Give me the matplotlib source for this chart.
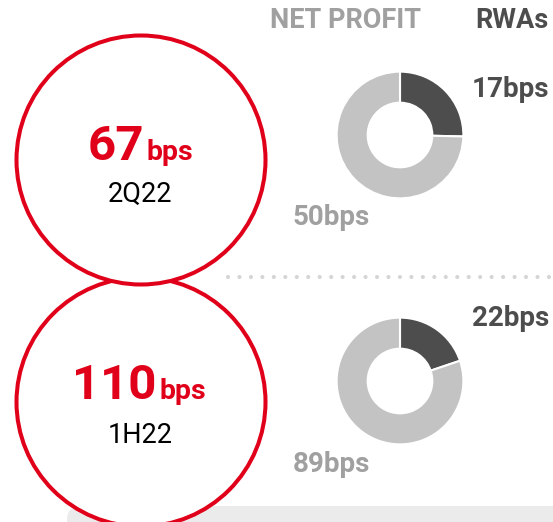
import matplotlib
matplotlib.use("Agg")
import matplotlib.pyplot as plt
from matplotlib.patches import Circle, FancyBboxPatch

# ---- data ----
periods = ["2Q22", "1H22"]
totals = [67, 110]
net_profit = [50, 89]
rwas = [17, 22]
headers = ["NET PROFIT", "RWAs"]

RED = "#E1001A"
DARK = "#4D4D4D"
LIGHT = "#C3C3C3"
TXTGRAY = "#A0A0A0"

plt.rcParams["font.family"] = ["Roboto", "DejaVu Sans"]

W, H = 553, 522
fig = plt.figure(figsize=(W / 100, H / 100), dpi=100)
ax = fig.add_axes([0, 0, 1, 1])
ax.set_xlim(0, W)
ax.set_ylim(H, 0)
ax.axis("off")

# bottom grey panel
ax.add_patch(FancyBboxPatch((67, 506), 520, 40,
                            boxstyle="round,pad=0,rounding_size=14",
                            fc="#EBEBEB", ec="none", zorder=1))

# dotted separator
ax.plot([228, 553], [277, 277], ls=(0, (0.001, 2.75)), lw=3.0,
        dash_capstyle="round", color="#D5D5D5", zorder=1)

# headers
ax.text(346, 28, headers[0], color=TXTGRAY, fontsize=19.5, fontweight="bold",
        ha="center", va="baseline")
ax.text(512, 28, headers[1], color=DARK, fontsize=19.5, fontweight="bold",
        ha="center", va="baseline")

circle_cy = [160, 402]
circle_cx = 141
big_split = [144, 157]
big_base = [160, 399]
small_base = [202, 443]
for i in range(2):
    ax.add_patch(Circle((circle_cx, circle_cy[i]), 124.5, fc="white", ec=RED,
                        lw=2.9, zorder=3 - i))
    ax.text(big_split[i], big_base[i], f"{totals[i]}", color=RED, fontsize=35.5,
            fontweight="bold", ha="right", va="baseline", zorder=5)
    ax.text(big_split[i] + 2.5, big_base[i], "bps", color=RED, fontsize=20.5,
            fontweight="bold", ha="left", va="baseline", zorder=5)
    ax.text(circle_cx - 1, small_base[i], periods[i], color="#000000",
            fontsize=19.5, fontweight="normal", ha="center", va="baseline",
            zorder=5)

# donuts
donut_cy = [135, 381]
donut_cx = 400
R = 64
rwa_base = [97, 326]
np_base = [225, 472]
for i in range(2):
    dax = fig.add_axes([(donut_cx - R) / W, 1 - (donut_cy[i] + R) / H,
                        2 * R / W, 2 * R / H])
    dax.pie([rwas[i], net_profit[i]], colors=[DARK, LIGHT], startangle=90,
            counterclock=False,
            wedgeprops=dict(width=0.49, edgecolor="white", linewidth=1.5))
    dax.set_xlim(-1.01, 1.01)
    dax.set_ylim(-1.01, 1.01)
    dax.set_aspect("equal")
    dax.axis("off")
    ax.text(472, rwa_base[i], f"{rwas[i]}bps", color=DARK, fontsize=20,
            fontweight="bold", ha="left", va="baseline")
    ax.text(293, np_base[i], f"{net_profit[i]}bps", color=TXTGRAY, fontsize=20,
            fontweight="bold", ha="left", va="baseline")

fig.savefig("out.png", dpi=100)
